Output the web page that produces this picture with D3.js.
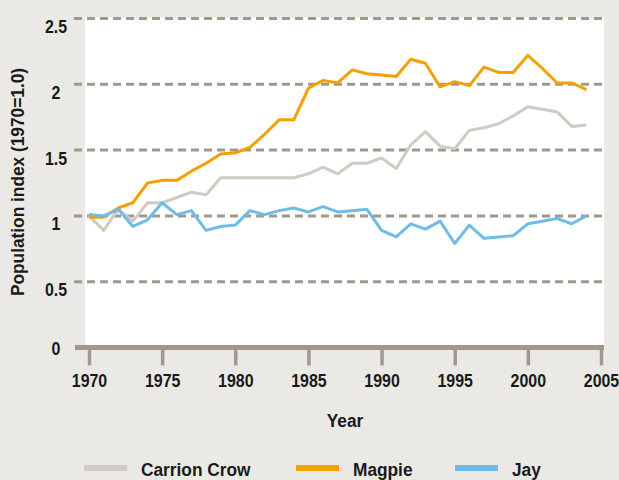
<!DOCTYPE html>
<html>
<head>
<meta charset="utf-8">
<script src="https://cdn.jsdelivr.net/npm/d3@7"></script>
<style>
  body { margin: 0; background: #ebe9e5; }
  svg { display: block; }
  text { font-family: "Liberation Sans", Arial, sans-serif; font-weight: bold; fill: #1a1a1a; }
</style>
</head>
<body>
<div id="chart"></div>
<script>
const years = [1970, 1971, 1972, 1973, 1974, 1975, 1976, 1977, 1978, 1979,
  1980, 1981, 1982, 1983, 1984, 1985, 1986, 1987, 1988, 1989,
  1990, 1991, 1992, 1993, 1994, 1995, 1996, 1997, 1998, 1999,
  2000, 2001, 2002, 2003, 2004];

const carrionCrow = [1.00, 0.89, 1.05, 0.96, 1.10, 1.10, 1.14, 1.18, 1.16, 1.29,
  1.29, 1.29, 1.29, 1.29, 1.29, 1.32, 1.37, 1.32, 1.40, 1.40,
  1.44, 1.36, 1.54, 1.64, 1.53, 1.51, 1.65, 1.67, 1.70, 1.76,
  1.83, 1.81, 1.79, 1.68, 1.69];

const magpie = [0.99, 0.99, 1.06, 1.10, 1.25, 1.27, 1.27, 1.34, 1.40, 1.47,
  1.48, 1.52, 1.62, 1.73, 1.73, 1.97, 2.03, 2.01, 2.11, 2.08,
  2.07, 2.06, 2.19, 2.16, 1.98, 2.02, 1.99, 2.13, 2.09, 2.09,
  2.22, 2.12, 2.01, 2.01, 1.96];

const jay = [1.01, 1.00, 1.05, 0.92, 0.97, 1.10, 1.01, 1.04, 0.89, 0.92,
  0.93, 1.04, 1.01, 1.04, 1.06, 1.03, 1.07, 1.03, 1.04, 1.05,
  0.89, 0.84, 0.94, 0.90, 0.96, 0.79, 0.93, 0.83, 0.84, 0.85,
  0.94, 0.96, 0.98, 0.94, 1.00];

const xTicks = [1970, 1975, 1980, 1985, 1990, 1995, 2000, 2005];
const yTicks = [0, 0.5, 1, 1.5, 2, 2.5];

const seriesNames = ["Carrion Crow", "Magpie", "Jay"];
const seriesColors = ["#d0cbc3", "#f4a100", "#6fbce6"];

const width = 619, height = 480;
const gridColor = "#a1988d";
// condensed look: squeeze text horizontally
const numSqueeze = "scale(0.84,1)";
const wordSqueeze = "scale(0.91,1)";

const svg = d3.select("#chart").append("svg")
    .attr("width", width)
    .attr("height", height);

const x = d3.scaleLinear().domain([1970, 2005]).range([89, 601]);
const y = d3.scaleLinear().domain([0, 2.5]).range([347.5, 18.5]);

// white plot panel
svg.append("rect")
    .attr("x", 85)
    .attr("y", y(2.5) - 1)
    .attr("width", 604 - 85)
    .attr("height", y(0) - y(2.5) + 1)
    .attr("fill", "#ffffff");

// dashed gridlines
svg.append("g")
  .selectAll("line")
  .data(yTicks.filter(d => d > 0))
  .join("line")
    .attr("x1", 74)
    .attr("x2", 604)
    .attr("y1", d => y(d))
    .attr("y2", d => y(d))
    .attr("stroke", gridColor)
    .attr("stroke-width", 3)
    .attr("stroke-dasharray", "8,5");

// y labels
svg.append("g")
  .selectAll("g")
  .data(yTicks)
  .join("g")
    .attr("transform", d => `translate(56,${d === 0 ? y(d) + 7 : y(d) + 14.5})`)
  .append("text")
    .attr("transform", numSqueeze)
    .attr("text-anchor", "middle")
    .style("font-size", "19px")
    .text(d => d);

// x axis
const xAxis = d3.axisBottom(x)
    .tickValues(xTicks)
    .tickFormat(d3.format("d"))
    .tickSize(18)
    .tickPadding(8);

const gx = svg.append("g")
    .attr("transform", `translate(0,${y(0)})`)
    .call(xAxis);

gx.select(".domain").remove();
gx.selectAll(".tick line")
    .attr("stroke", gridColor)
    .attr("stroke-width", 3.5);
gx.selectAll(".tick text")
    .attr("fill", "#1a1a1a")
    .attr("transform", numSqueeze)
    .style("font-size", "19px")
    .style("font-family", "'Liberation Sans', Arial, sans-serif")
    .style("font-weight", "bold");

svg.append("line")
    .attr("x1", 75)
    .attr("x2", 604)
    .attr("y1", y(0))
    .attr("y2", y(0))
    .attr("stroke", gridColor)
    .attr("stroke-width", 5);

// lines
const line = d3.line()
    .x((d, i) => x(years[i]))
    .y(d => y(d));

const allSeries = [carrionCrow, magpie, jay];
allSeries.forEach((s, k) => {
  svg.append("path")
      .datum(s)
      .attr("fill", "none")
      .attr("stroke", seriesColors[k])
      .attr("stroke-width", 3)
      .attr("stroke-linejoin", "round")
      .attr("d", line);
});

// axis titles
svg.append("text")
    .attr("transform", `translate(345,427) ${wordSqueeze}`)
    .attr("text-anchor", "middle")
    .style("font-size", "19px")
    .text("Year");

svg.append("text")
    .attr("transform", "translate(24,182) rotate(-90) " + wordSqueeze)
    .attr("text-anchor", "middle")
    .style("font-size", "19px")
    .text("Population index (1970=1.0)");

// legend
const legendX = [84, 296, 455];
const legend = svg.append("g")
  .selectAll("g")
  .data(seriesNames)
  .join("g")
    .attr("transform", (d, i) => `translate(${legendX[i]},468)`);

legend.append("line")
    .attr("x1", 0)
    .attr("x2", 43)
    .attr("stroke", (d, i) => seriesColors[i])
    .attr("stroke-width", 6);

legend.append("text")
    .attr("transform", `translate(57,7.5) ${wordSqueeze}`)
    .style("font-size", "19px")
    .text(d => d);
</script>
</body>
</html>
